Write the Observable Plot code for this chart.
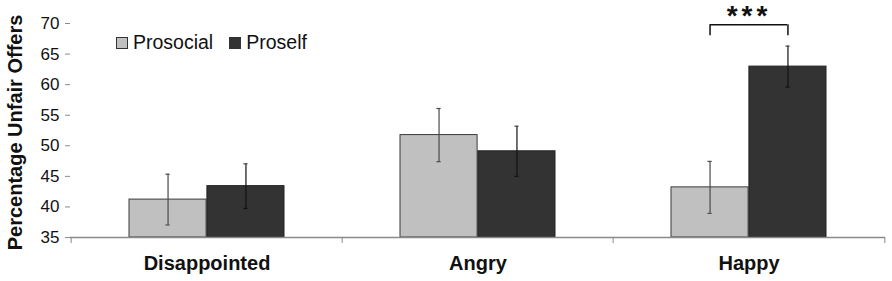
<!DOCTYPE html>
<html>
<head>
<meta charset="utf-8">
<script src="https://cdn.jsdelivr.net/npm/d3@7"></script>
<script src="https://cdn.jsdelivr.net/npm/@observablehq/plot@0.6"></script>
<style>
  html, body { margin: 0; padding: 0; background: #fff; }
  #wrap { position: relative; width: 892px; height: 281px; font-family: "Liberation Sans", Arial, sans-serif; }
  .legend { position: absolute; top: 33px; left: 116px; display: flex; align-items: center; font-size: 19.5px; color: #111; line-height: 1; }
  .legend .item { display: flex; align-items: center; margin-right: 16px; }
  .legend .sw { width: 10px; height: 10px; border: 1px solid #333; margin-right: 5px; }
</style>
</head>
<body>
<div id="wrap"></div>
<script>
const categories = ["Disappointed", "Angry", "Happy"];
const groups = ["Prosocial", "Proself"];
const prosocialMean = [41.2, 51.75, 43.2];
const prosocialErr = [4.15, 4.35, 4.25];
const proselfMean = [43.4, 49.1, 62.95];
const proselfErr = [3.65, 4.1, 3.35];
const yTicks = [35, 40, 45, 50, 55, 60, 65, 70];
const sigCategory = "Happy";
const sigLabel = "***";
const sigTop = 69.8;
const sigLeg = 68.0;
const groupColors = ["#c0c0c0", "#333333"];

const prosocial = categories.map((c, i) => ({cat: c, mean: prosocialMean[i], lo: prosocialMean[i] - prosocialErr[i], hi: prosocialMean[i] + prosocialErr[i]}));
const proself = categories.map((c, i) => ({cat: c, mean: proselfMean[i], lo: proselfMean[i] - proselfErr[i], hi: proselfMean[i] + proselfErr[i]}));
const sig = [{cat: sigCategory, top: sigTop, leg: sigLeg, label: sigLabel}];

const W = 892, H = 281, ML = 70, MR = 7, MT = 23, MB = 44;
const xOpts = {type: "band", domain: categories, paddingInner: 0.4265, paddingOuter: 0.2132};
const xs = Plot.scale({x: {...xOpts, range: [ML, W - MR]}});
const bw = xs.bandwidth;
const step = xs.step;
const cap = 2.5;

const chart = Plot.plot({
  width: W, height: H,
  marginLeft: ML, marginRight: MR, marginTop: MT, marginBottom: MB,
  style: {fontFamily: "'Liberation Sans', Arial, sans-serif", background: "#fff", color: "#111"},
  x: {...xOpts, label: null},
  y: {domain: [35, 70], label: null, clamp: true},
  marks: [
    Plot.barY(prosocial, {x: "cat", y: "mean", insetRight: bw / 2, fill: groupColors[0], stroke: "#3a3a3a", strokeWidth: 1}),
    Plot.barY(proself, {x: "cat", y: "mean", insetLeft: bw / 2, fill: groupColors[1], stroke: "#222", strokeWidth: 1}),
    Plot.ruleX(prosocial, {x: "cat", y1: "lo", y2: "hi", dx: -bw / 4, stroke: "#4a4a4a", strokeWidth: 1.2}),
    Plot.tickY(prosocial, {x: "cat", y: "lo", dx: -bw / 4, insetLeft: bw / 2 - cap, insetRight: bw / 2 - cap, stroke: "#4a4a4a", strokeWidth: 1.2}),
    Plot.tickY(prosocial, {x: "cat", y: "hi", dx: -bw / 4, insetLeft: bw / 2 - cap, insetRight: bw / 2 - cap, stroke: "#4a4a4a", strokeWidth: 1.2}),
    Plot.ruleX(proself, {x: "cat", y1: "lo", y2: "hi", dx: bw / 4, stroke: "#111", strokeWidth: 1.2}),
    Plot.tickY(proself, {x: "cat", y: "lo", dx: bw / 4, insetLeft: bw / 2 - cap, insetRight: bw / 2 - cap, stroke: "#111", strokeWidth: 1.2}),
    Plot.tickY(proself, {x: "cat", y: "hi", dx: bw / 4, insetLeft: bw / 2 - cap, insetRight: bw / 2 - cap, stroke: "#4a4a4a", strokeWidth: 1.2}),
    Plot.ruleY([35], {stroke: "#8a8a8a", strokeWidth: 1.5}),
    Plot.axisY(yTicks, {tickSize: 5, tickPadding: 6, fontSize: 17, stroke: "#8a8a8a", fill: "#111", label: null, line: true}),
    Plot.axisX({tickSize: 0, tickPadding: 18, fontSize: 20, fontWeight: "bold", fill: "#111", label: null}),
    Plot.axisX({tickSize: 6, tickFormat: () => "", dx: -step / 2, stroke: "#8a8a8a", label: null}),
    Plot.axisX([categories[categories.length - 1]], {tickSize: 6, tickFormat: () => "", dx: step / 2, stroke: "#8a8a8a", label: null}),
    Plot.text(["Percentage Unfair Offers"], {frameAnchor: "left", textAnchor: "middle", lineAnchor: "middle", rotate: -90, dx: -55, dy: 2, fontSize: 20, fontWeight: "bold", fill: "#111"}),
    // significance bracket
    Plot.tickY(sig, {x: "cat", y: "top", insetLeft: bw / 4, insetRight: bw / 4, stroke: "#111", strokeWidth: 1.5}),
    Plot.ruleX(sig, {x: "cat", y1: "leg", y2: "top", dx: -bw / 4, stroke: "#111", strokeWidth: 1.5}),
    Plot.ruleX(sig, {x: "cat", y1: "leg", y2: "top", dx: bw / 4, stroke: "#111", strokeWidth: 1.5}),
    Plot.text(sig, {x: "cat", y: "top", text: "label", lineAnchor: "bottom", dy: 0, fontSize: 28, fontWeight: "bold", fill: "#111"})
  ]
});

d3.select(chart).selectAll("text").filter(function () { return this.textContent === sigLabel; }).attr("letter-spacing", 4);

const wrap = document.getElementById("wrap");
wrap.appendChild(chart);

const legend = document.createElement("div");
legend.className = "legend";
groups.forEach((g, i) => {
  const item = document.createElement("div");
  item.className = "item";
  const sw = document.createElement("div");
  sw.className = "sw";
  sw.style.background = groupColors[i];
  const label = document.createElement("span");
  label.textContent = g;
  item.appendChild(sw);
  item.appendChild(label);
  legend.appendChild(item);
});
wrap.appendChild(legend);
</script>
</body>
</html>
